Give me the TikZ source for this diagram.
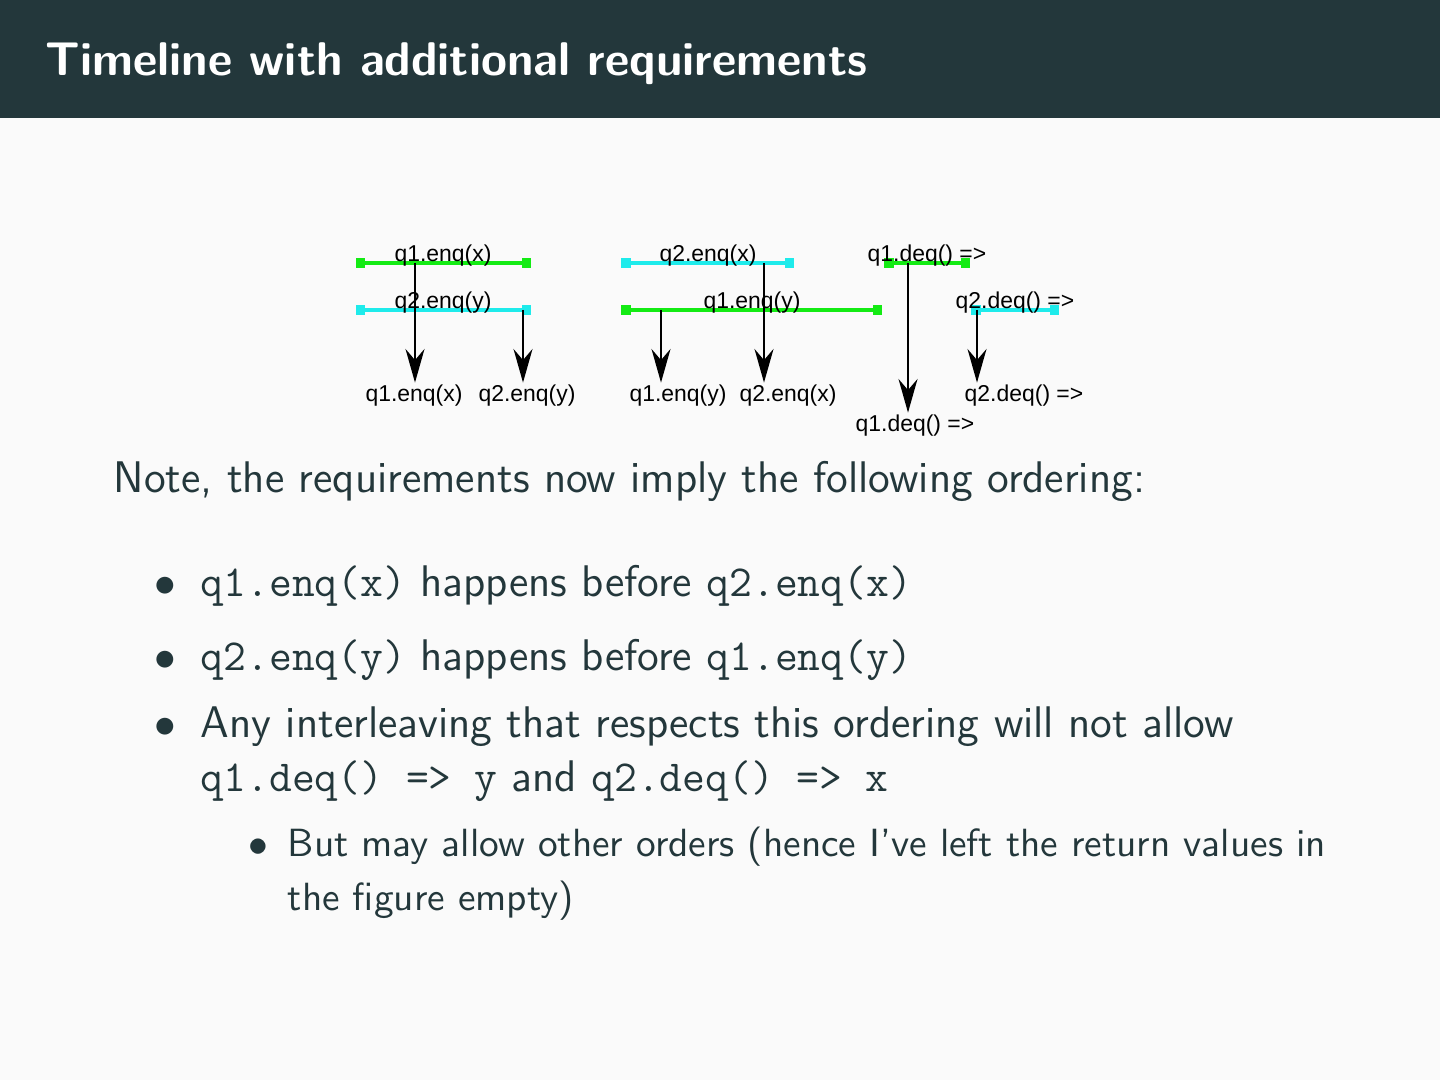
\documentclass[tikz,border=0pt]{standalone}
\usepackage{fontspec}
\newfontfamily\figfont{Liberation Sans}
\usetikzlibrary{arrows.meta, positioning}
\definecolor{slide}{HTML}{23373B}
\definecolor{paper}{HTML}{FAFAFA}
\definecolor{grn}{HTML}{14EB14}
\definecolor{cyn}{HTML}{1EEBEB}

\begin{document}
\begin{tikzpicture}[x=0.08889mm, y=-0.08889mm, font=\sffamily, >={Stealth[length=8.5pt, width=4.8pt, inset=2.8pt]},
    gbar/.style={draw=grn, line width=1pt, {Square[length=2.4pt, width=2.4pt]}-{Square[length=2.4pt, width=2.4pt]}},
    cbar/.style={draw=cyn, line width=1pt, {Square[length=2.4pt, width=2.4pt]}-{Square[length=2.4pt, width=2.4pt]}},
    lbl/.style={font=\figfont\fontsize{5.8}{7}\selectfont, text=black, inner sep=0.5pt},
    hb/.style={->, black, line width=0.5pt},
    txt/.style={anchor=base west, inner sep=0pt, text=slide, font=\sffamily\fontsize{11.2}{13}\selectfont},
    subtxt/.style={txt, font=\sffamily\fontsize{9.95}{12}\selectfont}]

  \useasboundingbox (0,0) rectangle (1440,1080);
  \fill[paper] (0,0) rectangle (1440,1080);
  \fill[slide] (0,0) rectangle (1440,118);
  \node[anchor=base west, inner sep=0pt, text=white, font=\sffamily\bfseries\fontsize{11.95}{14}\selectfont] (title) at (45,76) {Timeline with additional requirements};

  \coordinate (b1w) at (356,263); \coordinate (b1e) at (531,263);
  \coordinate (b2w) at (356,310); \coordinate (b2e) at (531,310);
  \coordinate (b3w) at (621,263); \coordinate (b3e) at (794,263);
  \coordinate (b4w) at (621,310); \coordinate (b4e) at (882,310);
  \coordinate (b5w) at (884,263); \coordinate (b5e) at (970,263);
  \coordinate (b6w) at (971,310); \coordinate (b6e) at (1059,310);

  \draw[gbar] (b1w) -- (b1e);
  \draw[cbar] (b2w) -- (b2e);
  \draw[cbar] (b3w) -- (b3e);
  \draw[gbar] (b4w) -- (b4e);
  \draw[gbar] (b5w) -- (b5e);
  \draw[cbar] (b6w) -- (b6e);

  \node[lbl, anchor=base] (t1) at (443,262) {q1.enq(x)};
  \node[lbl, anchor=base] (t2) at (443,309) {q2.enq(y)};
  \node[lbl, anchor=base] (t3) at (708,262) {q2.enq(x)};
  \node[lbl, anchor=base] (t4) at (752,309) {q1.enq(y)};
  \node[lbl, anchor=base] (t5) at (927,262) {q1.deq() =>};
  \node[lbl, anchor=base] (t6) at (1015,309) {q2.deq() =>};

  \node[lbl, anchor=base] (r1) at (414,402) {q1.enq(x)};
  \node[lbl, anchor=base] (r2) at (527,402) {q2.enq(y)};
  \node[lbl, anchor=base] (r3) at (678,402) {q1.enq(y)};
  \node[lbl, anchor=base] (r4) at (788,402) {q2.enq(x)};
  \node[lbl, anchor=base] (r5) at (915,432) {q1.deq() =>};
  \node[lbl, anchor=base] (r6) at (1024,402) {q2.deq() =>};

  \coordinate (a1) at (415,263);
  \coordinate (a2) at (523,310);
  \coordinate (a3) at (661,310);
  \coordinate (a4) at (764,263);
  \coordinate (a5) at (908,263);
  \coordinate (a6) at (977,310);

  \draw[hb] (a1) -- (a1 |- r1.north);
  \draw[hb] (a2) -- (a2 |- r2.north);
  \draw[hb] (a3) -- (a3 |- r3.north);
  \draw[hb] (a4) -- (a4 |- r4.north);
  \draw[hb] (a5) -- (a5 |- r5.north);
  \draw[hb] (a6) -- (a6 |- r6.north);

  \node[txt] (note) at (113,493) {Note, the requirements now imply the following ordering:};
  \node[txt, anchor=base] (d1) at (165,597) {$\bullet$};
  \node[txt] (i1) at (200,597) {\texttt{q1.enq(x)} happens before \texttt{q2.enq(x)}};
  \node[txt, anchor=base] (d2) at (165,671) {$\bullet$};
  \node[txt] (i2) at (200,671) {\texttt{q2.enq(y)} happens before \texttt{q1.enq(y)}};
  \node[txt, anchor=base] (d3) at (165,737) {$\bullet$};
  \node[txt] (i3) at (200,737) {Any interleaving that respects this ordering will not allow};
  \node[txt] (i3b) at (200,792) {\texttt{q1.deq() => y} and \texttt{q2.deq() => x}};
  \node[subtxt, anchor=base] (d4) at (258,856) {$\bullet$};
  \node[subtxt] (s1) at (287,856) {But may allow other orders (hence I've left the return values in};
  \node[subtxt] (s1b) at (287,910) {the figure empty)};
\end{tikzpicture}
\end{document}
